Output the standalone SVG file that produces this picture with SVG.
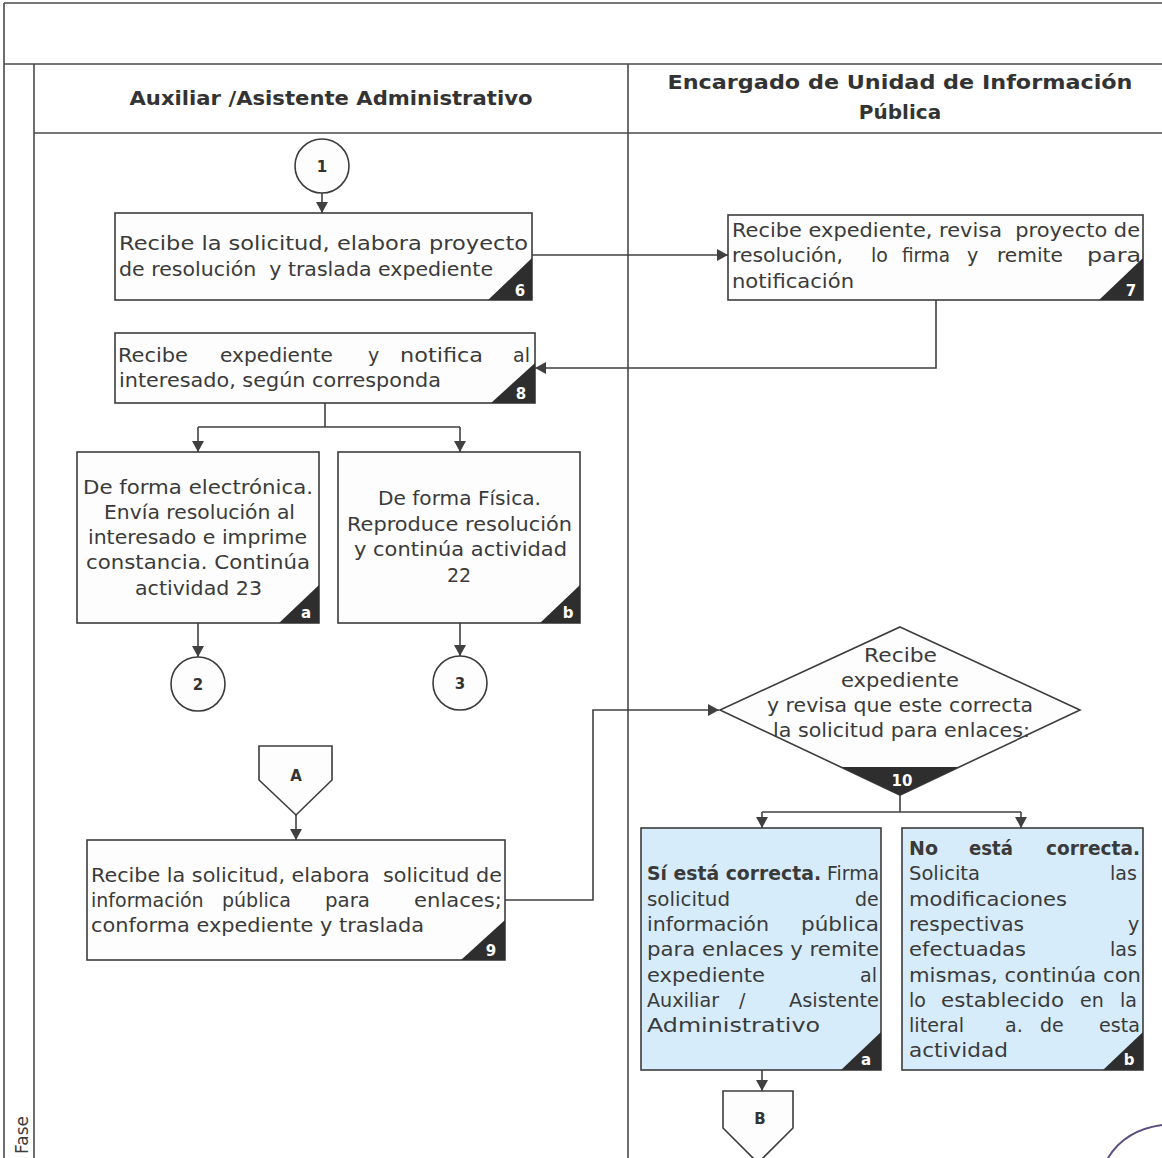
<svg xmlns="http://www.w3.org/2000/svg" width="1162" height="1158" viewBox="0 0 1162 1158">
<defs>
<style>
.fr{stroke:#4a4a4a;stroke-width:1.6;fill:none}
.ln{stroke:#404040;stroke-width:1.6;fill:none}
.box{fill:#fdfdfd;stroke:#3c3c3c;stroke-width:1.6}
.blue{fill:#d6ecfa;stroke:#3c3c3c;stroke-width:1.6}
.t{font-family:"DejaVu Sans","Liberation Sans",sans-serif;font-size:19px;fill:#3a3a3a}
.b{font-weight:bold}
.hd{font-family:"DejaVu Sans","Liberation Sans",sans-serif;font-size:20px;font-weight:bold;fill:#333}
.bg{fill:#2e2e2e}
.bn{font-family:"DejaVu Sans","Liberation Sans",sans-serif;font-size:15px;font-weight:bold;fill:#fff;text-anchor:middle}
.cn{font-family:"DejaVu Sans","Liberation Sans",sans-serif;font-size:15px;font-weight:bold;fill:#333;text-anchor:middle}
.mid{text-anchor:middle}
</style>
<marker id="ar" markerUnits="userSpaceOnUse" markerWidth="12" markerHeight="12" refX="11" refY="6" orient="auto">
<path d="M0,0 L11,6 L0,12 z" fill="#404040"/>
</marker>
</defs>
<rect width="1162" height="1158" fill="#ffffff"/>

<g id="frame">
<line class="fr" x1="4" y1="3" x2="1162" y2="3"/>
<line class="fr" x1="4" y1="3" x2="4" y2="1158"/>
<line class="fr" x1="4" y1="64" x2="1162" y2="64"/>
<line class="fr" x1="34" y1="64" x2="34" y2="1158"/>
<line class="fr" x1="34" y1="133" x2="1162" y2="133"/>
<line class="fr" x1="628" y1="64" x2="628" y2="1158"/>
<text class="t" style="font-size:17px" transform="translate(28,1116) rotate(-90)" text-anchor="end">Fase</text>
</g>

<g id="lane1-header"><text class="hd mid" x="331" y="105" textLength="403" lengthAdjust="spacingAndGlyphs">Auxiliar /Asistente Administrativo</text></g>
<g id="lane2-header">
<text class="hd mid" x="900" y="89" textLength="465" lengthAdjust="spacingAndGlyphs">Encargado de Unidad de Información</text>
<text class="hd mid" x="900" y="119">Pública</text>
</g>

<g id="connectors">
<line class="ln" x1="322" y1="193" x2="322" y2="213" marker-end="url(#ar)"/>
<line class="ln" x1="532" y1="255" x2="728" y2="255" marker-end="url(#ar)"/>
<polyline class="ln" points="936,300 936,368 535,368" marker-end="url(#ar)"/>
<line class="ln" x1="325" y1="403" x2="325" y2="427"/>
<line class="ln" x1="198" y1="427" x2="460" y2="427"/>
<line class="ln" x1="198" y1="427" x2="198" y2="452" marker-end="url(#ar)"/>
<line class="ln" x1="460" y1="427" x2="460" y2="452" marker-end="url(#ar)"/>
<line class="ln" x1="198" y1="623" x2="198" y2="657" marker-end="url(#ar)"/>
<line class="ln" x1="460" y1="623" x2="460" y2="656" marker-end="url(#ar)"/>
<line class="ln" x1="296" y1="815" x2="296" y2="840" marker-end="url(#ar)"/>
<polyline class="ln" points="505,900 593,900 593,710 719,710" marker-end="url(#ar)"/>
<line class="ln" x1="900" y1="795" x2="900" y2="812"/>
<line class="ln" x1="762" y1="812" x2="1021" y2="812"/>
<line class="ln" x1="762" y1="812" x2="762" y2="828" marker-end="url(#ar)"/>
<line class="ln" x1="1021" y1="812" x2="1021" y2="828" marker-end="url(#ar)"/>
<line class="ln" x1="762" y1="1070" x2="762" y2="1091" marker-end="url(#ar)"/>
</g>

<g id="c1"><circle class="box" cx="322" cy="166" r="27"/><text class="cn" x="322" y="172">1</text></g>

<g id="n6">
<rect class="box" x="115" y="213" width="417" height="87"/>
<text class="t" x="119" y="250" textLength="409" lengthAdjust="spacingAndGlyphs">Recibe la solicitud, elabora proyecto</text>
<text class="t" x="119" y="276" textLength="374" lengthAdjust="spacingAndGlyphs" xml:space="preserve">de resolución  y traslada expediente</text>
<polygon class="bg" points="488,300 532,300 532,258"/><text class="bn" x="520" y="296">6</text>
</g>

<g id="n7">
<rect class="box" x="728" y="215" width="415" height="85"/>
<text class="t" x="732" y="237" textLength="408" lengthAdjust="spacingAndGlyphs" xml:space="preserve">Recibe expediente, revisa  proyecto de</text>
<text class="t" y="262"><tspan x="732" textLength="111" lengthAdjust="spacingAndGlyphs">resolución,</tspan><tspan x="871">lo</tspan><tspan x="902" textLength="48" lengthAdjust="spacingAndGlyphs">firma</tspan><tspan x="967">y</tspan><tspan x="997" textLength="66" lengthAdjust="spacingAndGlyphs">remite</tspan><tspan x="1087" textLength="54" lengthAdjust="spacingAndGlyphs">para</tspan></text>
<text class="t" x="732" y="288" textLength="122" lengthAdjust="spacingAndGlyphs">notificación</text>
<polygon class="bg" points="1099,300 1143,300 1143,258"/><text class="bn" x="1131" y="296">7</text>
</g>

<g id="n8">
<rect class="box" x="115" y="333" width="420" height="70"/>
<text class="t" y="362"><tspan x="118" textLength="70" lengthAdjust="spacingAndGlyphs">Recibe</tspan><tspan x="220" textLength="113" lengthAdjust="spacingAndGlyphs">expediente</tspan><tspan x="368">y</tspan><tspan x="400" textLength="83" lengthAdjust="spacingAndGlyphs">notifica</tspan><tspan x="513">al</tspan></text>
<text class="t" x="119" y="387" textLength="322" lengthAdjust="spacingAndGlyphs">interesado, según corresponda</text>
<polygon class="bg" points="491,403 535,403 535,363"/><text class="bn" x="521" y="399">8</text>
</g>

<g id="n8a">
<rect class="box" x="77" y="452" width="242" height="171"/>
<text class="t" x="83" y="494" textLength="230" lengthAdjust="spacingAndGlyphs">De forma electrónica.</text>
<text class="t" x="104" y="519" textLength="191" lengthAdjust="spacingAndGlyphs">Envía resolución al</text>
<text class="t" x="88" y="544" textLength="219" lengthAdjust="spacingAndGlyphs">interesado e imprime</text>
<text class="t" x="86" y="569" textLength="224" lengthAdjust="spacingAndGlyphs">constancia. Continúa</text>
<text class="t" x="135" y="595" textLength="127" lengthAdjust="spacingAndGlyphs">actividad 23</text>
<polygon class="bg" points="279,623 319,623 319,585"/><text class="bn" x="306" y="618">a</text>
</g>

<g id="n8b">
<rect class="box" x="338" y="452" width="242" height="171"/>
<text class="t" x="378" y="505" textLength="163" lengthAdjust="spacingAndGlyphs">De forma Física.</text>
<text class="t" x="347" y="531" textLength="225" lengthAdjust="spacingAndGlyphs">Reproduce resolución</text>
<text class="t" x="354" y="556" textLength="213" lengthAdjust="spacingAndGlyphs">y continúa actividad</text>
<text class="t mid" x="459" y="582">22</text>
<polygon class="bg" points="540,623 580,623 580,585"/><text class="bn" x="568" y="618">b</text>
</g>

<g id="c2"><circle class="box" cx="198" cy="684" r="27"/><text class="cn" x="198" y="690">2</text></g>
<g id="c3"><circle class="box" cx="460" cy="683" r="27"/><text class="cn" x="460" y="689">3</text></g>

<g id="offA">
<polygon class="box" points="259,746 332,746 332,780 296,815 259,780"/>
<text class="cn" x="296" y="781">A</text>
</g>

<g id="n9">
<rect class="box" x="87" y="840" width="418" height="120"/>
<text class="t" x="91" y="882" textLength="411" lengthAdjust="spacingAndGlyphs" xml:space="preserve">Recibe la solicitud, elabora  solicitud de</text>
<text class="t" y="907"><tspan x="91">información</tspan><tspan x="222">pública</tspan><tspan x="325" textLength="45" lengthAdjust="spacingAndGlyphs">para</tspan><tspan x="414" textLength="88" lengthAdjust="spacingAndGlyphs">enlaces;</tspan></text>
<text class="t" x="91" y="932" textLength="333" lengthAdjust="spacingAndGlyphs">conforma expediente y traslada</text>
<polygon class="bg" points="461,960 505,960 505,920"/><text class="bn" x="491" y="956">9</text>
</g>

<g id="d10">
<polygon class="box" points="900,627 1080,710 900,795 720,710"/>
<polygon class="bg" points="841,767 959,767 900,795"/>
<text class="bn" x="902" y="786">10</text>
<text class="t" x="864" y="662" textLength="73" lengthAdjust="spacingAndGlyphs">Recibe</text>
<text class="t" x="841" y="687" textLength="118" lengthAdjust="spacingAndGlyphs">expediente</text>
<text class="t" x="767" y="712" textLength="266" lengthAdjust="spacingAndGlyphs">y revisa que este correcta</text>
<text class="t" x="773" y="737" textLength="257" lengthAdjust="spacingAndGlyphs">la solicitud para enlaces:</text>
</g>

<g id="n10a">
<rect class="blue" x="641" y="828" width="240" height="242"/>
<text class="t" x="647" y="880" textLength="232" lengthAdjust="spacingAndGlyphs"><tspan class="b">Sí está correcta.</tspan> Firma</text>
<text class="t" y="906"><tspan x="647" textLength="83" lengthAdjust="spacingAndGlyphs">solicitud</tspan><tspan x="855">de</tspan></text>
<text class="t" y="931"><tspan x="647" textLength="122" lengthAdjust="spacingAndGlyphs">información</tspan><tspan x="801" textLength="78" lengthAdjust="spacingAndGlyphs">pública</tspan></text>
<text class="t" x="647" y="956" textLength="232" lengthAdjust="spacingAndGlyphs">para enlaces y remite</text>
<text class="t" y="982"><tspan x="647" textLength="118" lengthAdjust="spacingAndGlyphs">expediente</tspan><tspan x="860">al</tspan></text>
<text class="t" y="1007"><tspan x="647" textLength="72" lengthAdjust="spacingAndGlyphs">Auxiliar</tspan><tspan x="739">/</tspan><tspan x="789" textLength="90" lengthAdjust="spacingAndGlyphs">Asistente</tspan></text>
<text class="t" x="647" y="1032" textLength="173" lengthAdjust="spacingAndGlyphs">Administrativo</text>
<polygon class="bg" points="841,1070 881,1070 881,1032"/><text class="bn" x="866" y="1065">a</text>
</g>

<g id="n10b">
<rect class="blue" x="902" y="828" width="241" height="242"/>
<text class="t b" y="855"><tspan x="909">No</tspan><tspan x="969" textLength="44" lengthAdjust="spacingAndGlyphs">está</tspan><tspan x="1046" textLength="94" lengthAdjust="spacingAndGlyphs">correcta.</tspan></text>
<text class="t" y="880"><tspan x="909" textLength="71" lengthAdjust="spacingAndGlyphs">Solicita</tspan><tspan x="1110">las</tspan></text>
<text class="t" x="909" y="906" textLength="158" lengthAdjust="spacingAndGlyphs">modificaciones</text>
<text class="t" y="931"><tspan x="909" textLength="115" lengthAdjust="spacingAndGlyphs">respectivas</tspan><tspan x="1128">y</tspan></text>
<text class="t" y="956"><tspan x="909" textLength="117" lengthAdjust="spacingAndGlyphs">efectuadas</tspan><tspan x="1110">las</tspan></text>
<text class="t" x="909" y="982" textLength="232" lengthAdjust="spacingAndGlyphs">mismas, continúa con</text>
<text class="t" y="1007"><tspan x="909">lo</tspan><tspan x="941" textLength="123" lengthAdjust="spacingAndGlyphs">establecido</tspan><tspan x="1080">en</tspan><tspan x="1120">la</tspan></text>
<text class="t" y="1032"><tspan x="909" textLength="55" lengthAdjust="spacingAndGlyphs">literal</tspan><tspan x="1005">a.</tspan><tspan x="1040">de</tspan><tspan x="1099" textLength="41" lengthAdjust="spacingAndGlyphs">esta</tspan></text>
<text class="t" x="909" y="1057" textLength="99" lengthAdjust="spacingAndGlyphs">actividad</text>
<polygon class="bg" points="1103,1070 1143,1070 1143,1032"/><text class="bn" x="1129" y="1065">b</text>
</g>

<g id="offB">
<polygon class="box" points="723,1091 793,1091 793,1128 758,1163 723,1128"/>
<text class="cn" x="760" y="1124">B</text>
</g>

<path d="M1108,1158 Q1125,1130 1162,1125" fill="none" stroke="#5b4d80" stroke-width="2"/>
</svg>
